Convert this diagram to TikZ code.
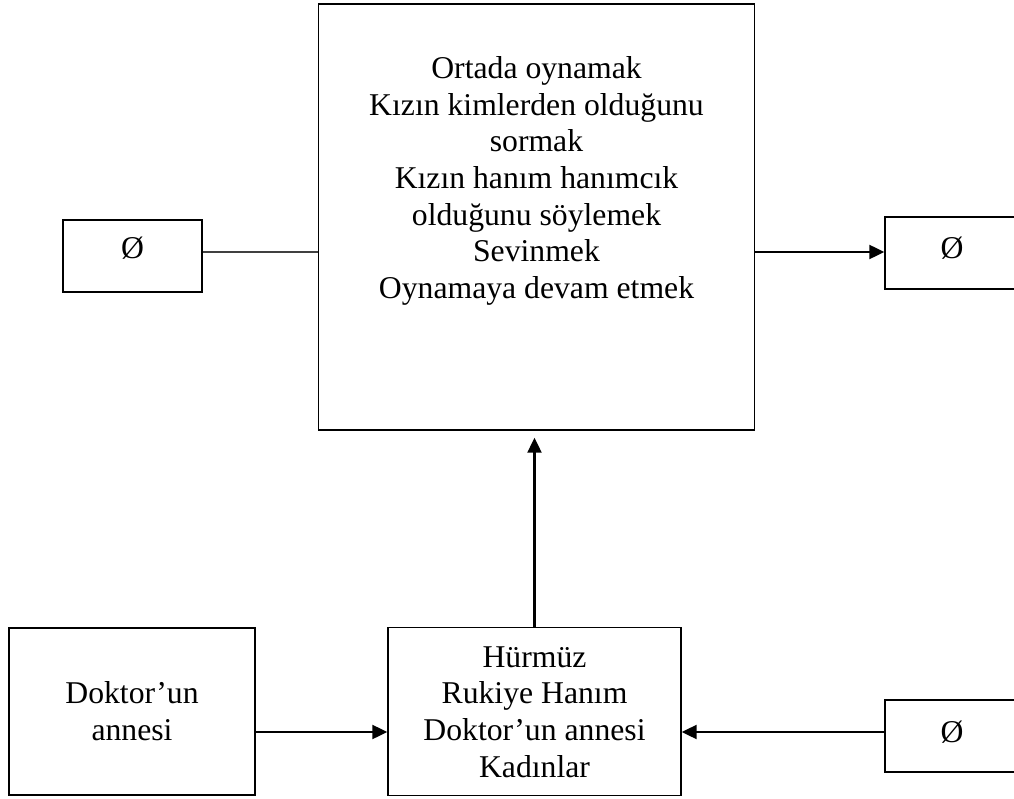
\documentclass[tikz,border=0pt]{standalone}
\usepackage{fontspec}
\setmainfont{Liberation Serif}
\usetikzlibrary{arrows.meta}
\begin{document}
\begin{tikzpicture}[x=1pt,y=-1pt,
  box/.style={draw=black,line width=1.4pt,rectangle,inner sep=0pt},
  txt/.style={font=\fontsize{31.7}{36.7}\selectfont,align=center,inner sep=0pt},
  flow/.style={line width=2.2pt,-{Triangle[length=15pt,width=14pt]}},
  plain/.style={line width=1.3pt,draw=black!75}]
\useasboundingbox (0,0) rectangle (1014,799);
\clip (0,0) rectangle (1014,799);
% boxes
\node[box,minimum width=139,minimum height=72] (inL) at (132.5,256) {};
\node[txt] (inLtxt) at (132.5,248) {Ø};
\node[box,minimum width=436,minimum height=426] (act) at (536.5,217) {};
\node[txt] (acttxt) at (536.5,181) {Ortada oynamak\\Kızın kimlerden olduğunu\\sormak\\Kızın hanım hanımcık\\olduğunu söylemek\\Sevinmek\\Oynamaya devam etmek};
\node[box,minimum width=139,minimum height=72] (outR) at (954.5,253) {};
\node[txt] (outRtxt) at (952,248) {Ø};
\node[box,minimum width=246,minimum height=167] (dok) at (132,711.5) {};
\node[txt] (doktxt) at (132,711) {Doktor’un\\annesi};
\node[box,minimum width=293,minimum height=168] (hur) at (534.5,711.5) {};
\node[txt] (hurtxt) at (534.5,712) {Hürmüz\\Rukiye Hanım\\Doktor’un annesi\\Kadınlar};
\node[box,minimum width=139,minimum height=72] (inR) at (954.5,736) {};
\node[txt] (inRtxt) at (952,732) {Ø};
% connector rows
\coordinate (rowA) at (0,252);
\coordinate (rowB) at (0,732);
% connectors
\draw[plain] (inL.east |- rowA) -- (act.west |- rowA);
\draw[flow] (act.east |- rowA) -- (outR.west |- rowA);
\draw[flow,shorten >=7pt] (hur.north) -- (act.south -| hur.north);
\draw[flow] (dok.east |- rowB) -- (hur.west |- rowB);
\draw[flow] (inR.west |- rowB) -- (hur.east |- rowB);
\end{tikzpicture}
\end{document}
